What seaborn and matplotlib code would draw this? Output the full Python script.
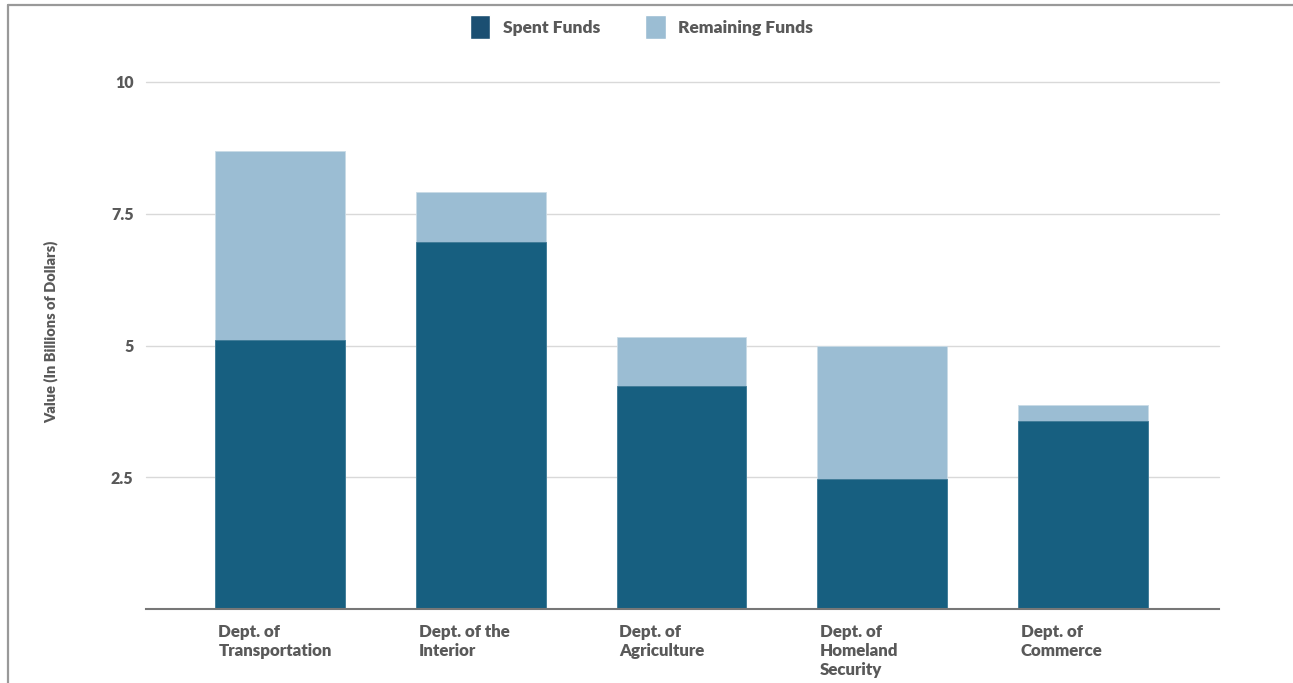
import matplotlib
matplotlib.use("Agg")
import matplotlib.pyplot as plt
import matplotlib.transforms as mtransforms
from matplotlib.patches import Patch
from matplotlib.lines import Line2D
import pandas as pd
import seaborn as sns

# Data (billions of dollars)
departments = ["Dept. of\nTransportation", "Dept. of the\nInterior", "Dept. of\nAgriculture",
               "Dept. of\nHomeland\nSecurity", "Dept. of\nCommerce"]
spent = [5.1, 6.97, 4.23, 2.47, 3.57]
remaining = [3.6, 0.94, 0.93, 2.53, 0.3]
y_ticks = [2.5, 5, 7.5, 10]
y_tick_labels = ["2.5", "5", "7.5", "10"]

df = pd.DataFrame({"Department": departments, "Spent": spent, "Remaining": remaining})
df["Total"] = df["Spent"] + df["Remaining"]

spent_color = "#175f80"
remain_color = "#9bbdd3"
text_color = "#595959"
W = 800  # font weight

sns.set_theme(style="white")
plt.rcParams["font.family"] = ["Lato", "DejaVu Sans"]

fig = plt.figure(figsize=(12.93, 6.83), dpi=100)
ax = fig.add_axes([146 / 1293, 1 - 609 / 683, (1219 - 146) / 1293, (609 - 82) / 683])

# stacked bars: full total in light colour, spent on top in dark colour
sns.barplot(data=df, x="Department", y="Total", color=remain_color, width=0.648,
            edgecolor="#c9dbe6", linewidth=0.6, saturation=1, ax=ax)
sns.barplot(data=df, x="Department", y="Spent", color=spent_color, width=0.648,
            edgecolor="#3f7b97", linewidth=0.6, saturation=1, ax=ax)

ax.set_xlim(-0.67, 4.68)
ax.set_ylim(0, 10)
ax.set_yticks(y_ticks)
ax.set_yticklabels(y_tick_labels, fontsize=11.5, fontweight=W, color=text_color)
ax.yaxis.grid(True, color="#d9d9d9", linewidth=1)
ax.set_axisbelow(True)
for gl in ax.get_ygridlines():
    gl.set_clip_on(False)
ax.tick_params(axis="y", length=0, pad=9)
ax.tick_params(axis="x", length=0, pad=11)

ax.set_xlabel("")
ax.set_ylabel("Value (In Billions of Dollars)", fontsize=10.5, fontweight=W, color=text_color)
ax.yaxis.set_label_coords(-0.082, 0.526)

# left-align category labels at the left edge of each bar
offset = mtransforms.ScaledTranslation(-62 / 100, 0, fig.dpi_scale_trans)
for lbl in ax.get_xticklabels():
    lbl.set_horizontalalignment("left")
    lbl.set_verticalalignment("top")
    lbl.set_multialignment("left")
    lbl.set_fontsize(12.2)
    lbl.set_fontweight(W)
    lbl.set_color(text_color)
    lbl.set_linespacing(1.22)
    lbl.set_transform(lbl.get_transform() + offset)

for side in ["left", "right", "top"]:
    ax.spines[side].set_visible(False)
ax.spines["bottom"].set_color("#777777")
ax.spines["bottom"].set_linewidth(1.5)

handles = [Patch(facecolor="#1b4f72", label="Spent Funds"),
           Patch(facecolor=remain_color, label="Remaining Funds")]
fig.legend(handles=handles, loc="center", bbox_to_anchor=(0.496, 1 - 27 / 683), ncol=2,
           frameon=False, handlelength=1.2, handleheight=1.8, handletextpad=0.7,
           columnspacing=2.6, prop={"family": ["Lato", "DejaVu Sans"], "weight": W, "size": 12.5},
           labelcolor=text_color)

# frame lines around the chart (top and left)
fig.add_artist(Line2D([8 / 1293, 1], [1 - 5 / 683, 1 - 5 / 683], transform=fig.transFigure,
                      color="#999999", linewidth=1.6))
fig.add_artist(Line2D([8 / 1293, 8 / 1293], [0, 1 - 5 / 683], transform=fig.transFigure,
                      color="#999999", linewidth=1.6))

fig.savefig("out.png", dpi=100, facecolor="white")
